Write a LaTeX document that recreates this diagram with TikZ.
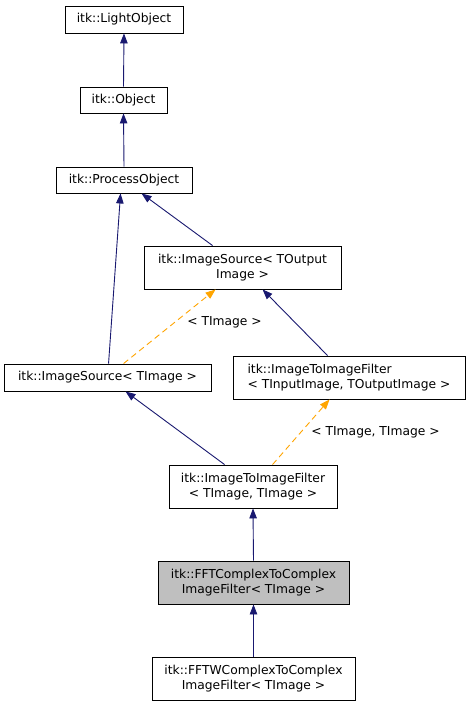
\documentclass[tikz,border=0pt]{standalone}
\usepackage{fontspec}
\setmainfont{DejaVu Sans}
\usetikzlibrary{arrows.meta,calc}
\definecolor{edgeblue}{RGB}{25,25,112}
\definecolor{tmplorange}{RGB}{255,165,0}
\definecolor{curgray}{RGB}{191,191,191}
\begin{document}
\begin{tikzpicture}[x=1pt,y=-1pt,
  cls/.style={draw=black,line width=0.9pt,fill=white,inner sep=0pt,font=\fontsize{12.3}{15}\selectfont,align=center},
  edge/.style={draw=edgeblue,line width=0.9pt,-{Triangle[length=10pt,width=7.5pt]}},
  tmpl/.style={draw=tmplorange,line width=0.9pt,dash pattern=on 6pt off 4pt,-{Triangle[length=10pt,width=7.5pt]}},
  lbl/.style={font=\fontsize{12.3}{15}\selectfont,inner sep=0pt}]
\useasboundingbox[fill=white] (0,0) rectangle (469,707);
\node[cls,minimum width=118pt,minimum height=27pt] (LO) at (124,19.5) {itk::LightObject};
\node[cls,minimum width=87pt,minimum height=26pt] (OB) at (123.5,100) {itk::Object};
\node[cls,minimum width=136pt,minimum height=26pt] (PO) at (124,180) {itk::ProcessObject};
\node[cls,minimum width=197pt,minimum height=43pt] (ISO) at (242.5,267.5) {itk::ImageSource< TOutput\\Image >};
\node[cls,minimum width=207pt,minimum height=27pt] (IST) at (107.5,377.5) {itk::ImageSource< TImage >};
\node[cls,align=left,minimum width=232pt,minimum height=43pt] (IIO) at (349,377.5) {itk::ImageToImageFilter\\< TInputImage, TOutputImage >};
\node[cls,minimum width=168pt,minimum height=43pt] (IIT) at (253,486.5) {itk::ImageToImageFilter\\< TImage, TImage >};
\node[cls,fill=curgray,minimum width=191pt,minimum height=43pt] (FFT) at (253.5,582.5) {itk::FFTComplexToComplex\\ImageFilter< TImage >};
\node[cls,minimum width=203pt,minimum height=43pt] (FFTW) at (253.5,678.5) {itk::FFTWComplexToComplex\\ImageFilter< TImage >};
\draw[edge] (OB.north) -- (LO.south);
\draw[edge] (PO.north) -- (OB.south);
\draw[edge] ($(IST.north west)+(105,0)$) -- ($(PO.south west)+(65,0)$);
\draw[edge] ($(ISO.north west)+(69,0)$) -- ($(PO.south west)+(86,0)$);
\draw[tmpl] ($(IST.north west)+(120,0)$) -- node[lbl,pos=0.5,xshift=55pt,yshift=4.5pt] (L1) {< TImage >} ($(ISO.south west)+(72,0)$);
\draw[edge] ($(IIO.north west)+(95,0)$) -- ($(ISO.south west)+(119,0)$);
\draw[edge] ($(IIT.north west)+(56,0)$) -- ($(IST.south west)+(122,0)$);
\draw[tmpl] ($(IIT.north west)+(104,0)$) -- node[lbl,pos=0.5,xshift=74.5pt,yshift=0pt] (L2) {< TImage, TImage >} ($(IIO.south west)+(97,0)$);
\draw[edge] (FFT.north) -- (IIT.south);
\draw[edge] (FFTW.north) -- (FFT.south);
\end{tikzpicture}
\end{document}
